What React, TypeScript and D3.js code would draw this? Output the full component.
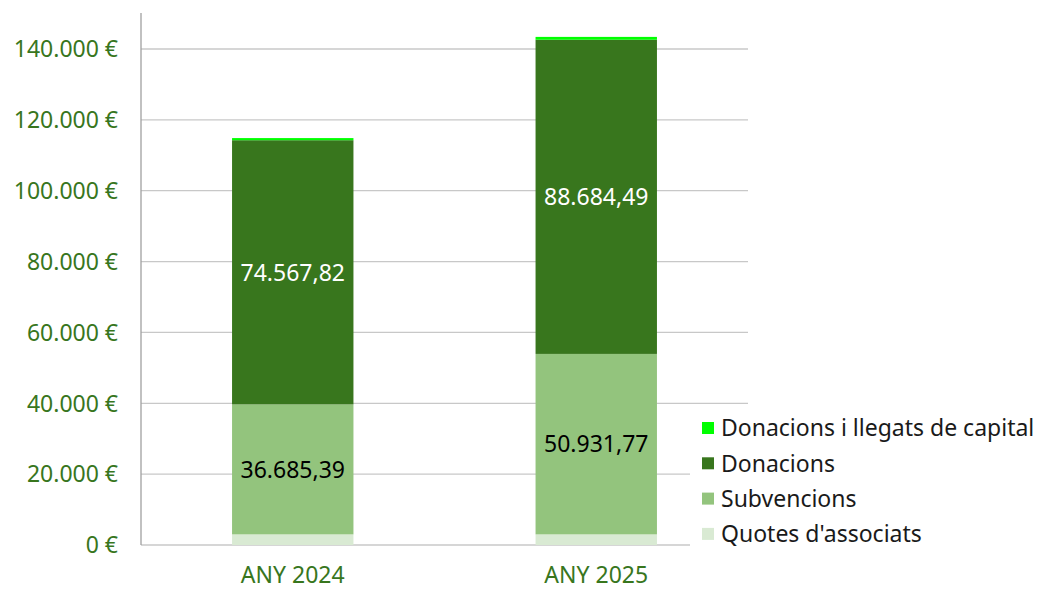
import React from "react";
import * as d3 from "d3";

const categories = ["ANY 2024", "ANY 2025"];
const quotes = [3000, 3000];
const subvencions = [36685.39, 50931.77];
const donacions = [74567.82, 88684.49];
const llegats = [600, 800];
const seriesNames = ["Quotes d'associats", "Subvencions", "Donacions", "Donacions i llegats de capital"];
const seriesColors = ["#d9ead3", "#93c47d", "#38761d", "#00ff00"];
const yTicks = [0, 20000, 40000, 60000, 80000, 100000, 120000, 140000];
const labelledSeries = [1, 2];
const labelColors = ["#000000", "#000000", "#ffffff", "#000000"];

const W = 1039;
const H = 590;
const left = 141;
const right = 748;
const top = 13;
const bottom = 545;
const FONT = "'Noto Sans', sans-serif";
const FS = 23;

const fmtTick = (v: number) =>
  (v === 0 ? "0" : d3.format(",")(v).replace(/,/g, ".")) + " €";
const fmtVal = (v: number) => {
  const s = d3.format(",.2f")(v);
  return s.replace(/,/g, "#").replace(".", ",").replace(/#/g, ".");
};

export default function App() {
  const rows = categories.map((c, i) => ({
    cat: c,
    s0: quotes[i],
    s1: subvencions[i],
    s2: donacions[i],
    s3: llegats[i],
  }));
  const stack = d3.stack<any>().keys(["s0", "s1", "s2", "s3"]);
  const stacked = stack(rows);
  const x = d3.scaleBand().domain(categories).range([left, right]).paddingInner(0.6).paddingOuter(0.3);
  const y = d3.scaleLinear().domain([0, 140000]).range([bottom, 49]);

  return (
    <svg width={W} height={H} style={{ position: "absolute", left: 0, top: 0, background: "#fff" }}>
      {yTicks.map((t) => (
        <g key={t}>
          <line x1={left} x2={right} y1={y(t)} y2={y(t)} stroke="#c8c8c8" strokeWidth={1.3} />
          <text x={118} y={y(t)} dy="0.36em" textAnchor="end" fontFamily={FONT} fontSize={FS} fill="#38761d">
            {fmtTick(t)}
          </text>
        </g>
      ))}
      <line x1={left} x2={left} y1={top} y2={bottom} stroke="#a0a0a0" strokeWidth={1.3} />
      {stacked.map((s, si) =>
        s.map((d, di) => (
          <rect
            key={si + "-" + di}
            x={x(categories[di])!}
            width={x.bandwidth()}
            y={y(d[1])}
            height={y(d[0]) - y(d[1])}
            fill={seriesColors[si]}
          />
        ))
      )}
      {stacked.map((s, si) =>
        labelledSeries.includes(si)
          ? s.map((d, di) => (
              <text
                key={"l" + si + "-" + di}
                x={x(categories[di])! + x.bandwidth() / 2}
                y={(y(d[0]) + y(d[1])) / 2}
                dy="0.36em"
                textAnchor="middle"
                fontFamily={FONT}
                fontSize={FS}
                fill={labelColors[si]}
              >
                {fmtVal(d[1] - d[0])}
              </text>
            ))
          : null
      )}
      {categories.map((c) => (
        <text
          key={c}
          x={x(c)! + x.bandwidth() / 2}
          y={583}
          textAnchor="middle"
          fontFamily={FONT}
          fontSize={FS}
          fill="#38761d"
        >
          {c}
        </text>
      ))}
      <rect x={690} y={412} width={349} height={140} fill="#fff" />
      {[3, 2, 1, 0].map((si, i) => (
        <g key={"leg" + si} transform={`translate(702, ${428 + i * 35.3})`}>
          <rect x={0} y={-6} width={12} height={12} fill={seriesColors[si]} />
          <text x={19} y={0} dy="0.36em" fontFamily={FONT} fontSize={FS} fill="#1a1a1a">
            {seriesNames[si]}
          </text>
        </g>
      ))}
    </svg>
  );
}
